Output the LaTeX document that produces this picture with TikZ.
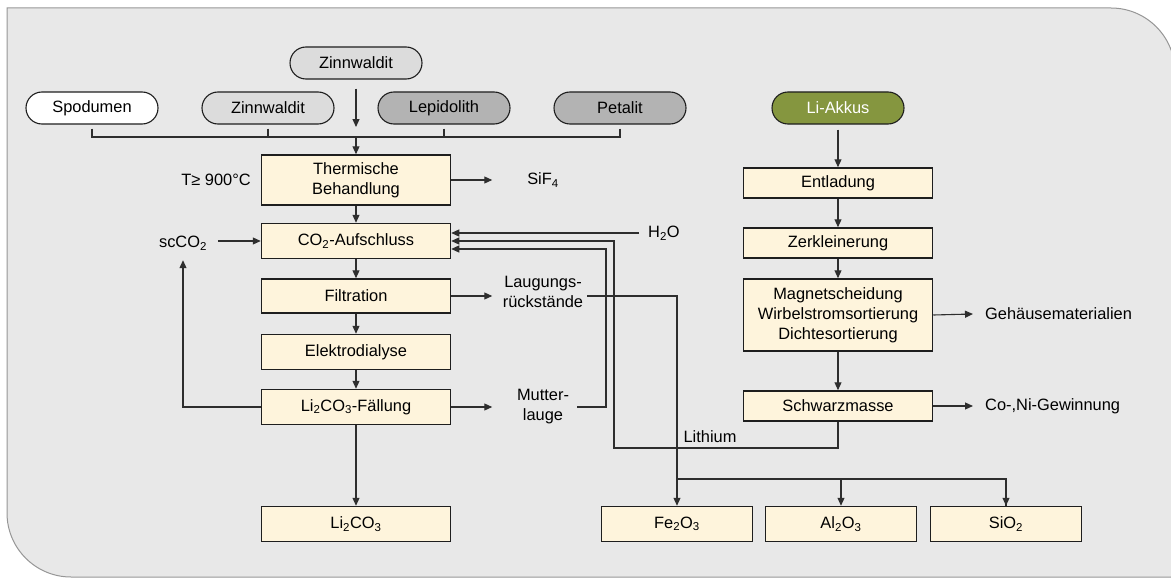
\documentclass[tikz,border=0pt]{standalone}
\usepackage{fontspec}
\setmainfont{Liberation Sans}
\usetikzlibrary{arrows.meta,calc}
\definecolor{bgfill}{HTML}{E8E8E8}
\definecolor{bgline}{HTML}{969696}
\definecolor{cream}{HTML}{FEF4DC}
\definecolor{boxline}{HTML}{1E1E1E}
\definecolor{lineclr}{HTML}{2E2E2E}
\definecolor{ovlight}{HTML}{DCDCDC}
\definecolor{ovdark}{HTML}{B3B3B3}
\definecolor{olive}{HTML}{85963F}
\newcommand{\sbs}[1]{\textsubscript{#1}}
\tikzset{
  procbox/.style={draw=boxline, fill=cream, line width=1.5pt, minimum width=189pt, minimum height=35pt, align=center, inner sep=0pt},
  prodbox/.style={procbox, minimum width=151pt},
  ovalbox/.style={draw=boxline, line width=1.1pt, rounded corners=16pt, minimum width=132pt, minimum height=32pt, inner sep=0pt},
  arr/.style={draw=lineclr, line width=1.1pt, -{Triangle[length=8pt,width=7pt]}},
  ln/.style={draw=lineclr, line width=1.1pt},
  lbl/.style={inner sep=0pt, align=center},
}
\begin{document}
\begin{tikzpicture}[x=1pt,y=-1pt, font=\fontsize{16.4}{20}\selectfont]
\useasboundingbox (0,0) rectangle (1171,578);
% background
\path[fill=bgfill, draw=bgline, line width=1pt] (7,8) -- (1111,8) .. controls (1146.3,8) and (1175,36.7) .. (1175,72) -- (1175,577) -- (71,577) .. controls (35.7,577) and (7,548.3) .. (7,513) -- cycle;

% ore ovals
\node[ovalbox, fill=ovlight] (topz) at (356,63) {Zinnwaldit};
\node[ovalbox, fill=white] (spod) at (92,108) {Spodumen};
\node[ovalbox, fill=ovlight] (zinn) at (268,108) {Zinnwaldit};
\node[ovalbox, fill=ovdark] (lepi) at (444,108) {Lepidolith};
\node[ovalbox, fill=ovdark] (peta) at (620,108) {Petalit};
\node[ovalbox, fill=olive, text=white] (akku) at (838,108) {Li-Akkus};

% left process column
\node[procbox, minimum height=50pt] (therm) at (356,180) {Thermische\\Behandlung};
\node[procbox] (co2) at (356,241) {CO\sbs{2}-Aufschluss};
\node[procbox, minimum height=34pt] (filt) at (356,296) {Filtration};
\node[procbox] (elek) at (356,352) {Elektrodialyse};
\node[procbox] (fall) at (356,407) {Li\sbs{2}CO\sbs{3}-Fällung};
\node[procbox] (lico) at (356,524) {Li\sbs{2}CO\sbs{3}};

% right process column
\node[procbox, minimum height=30pt] (entl) at (838,183) {Entladung};
\node[procbox, minimum height=30pt] (zerk) at (838,243) {Zerkleinerung};
\node[procbox, minimum height=72pt] (magn) at (838,315) {Magnetscheidung\\Wirbelstromsortierung\\Dichtesortierung};
\node[procbox, minimum height=30pt] (schw) at (838,406) {Schwarzmasse};

% products
\node[prodbox] (fe) at (677,524) {Fe\sbs{2}O\sbs{3}};
\node[prodbox] (al) at (841,524) {Al\sbs{2}O\sbs{3}};
\node[prodbox] (si) at (1006,524) {SiO\sbs{2}};

% labels
\node[lbl] (temp) at (216,180) {T≥ 900°C};
\node[lbl] (sif) at (543,180) {SiF\sbs{4}};
\node[lbl] (scco) at (183,243) {scCO\sbs{2}};
\node[lbl, anchor=west] (water) at (648,233) {H\sbs{2}O};
\node[lbl] (laug) at (543,292) {Laugungs-\\rückstände};
\node[lbl] (mutt) at (543,407) {Mutter-\\lauge};
\node[lbl] (lith) at (710,437) {Lithium};
\node[lbl, anchor=west] (geh) at (985,314) {Gehäusematerialien};
\node[lbl, anchor=west] (coni) at (985,406) {Co-,Ni-Gewinnung};

% collector bus
\coordinate (bus) at (356,137);
\draw[arr] ($(topz.south)+(0,9)$) -- ($(bus)+(0,-10)$);
\draw[ln] ($(spod.south)+(0,4)$) |- (bus);
\draw[ln] ($(zinn.south)+(0,4)$) -- (zinn.south |- bus);
\draw[ln] ($(lepi.south)+(0,4)$) -- (lepi.south |- bus);
\draw[ln] ($(peta.south)+(0,4)$) |- (bus);
\draw[arr] (bus) -- (therm.north);

% left chain
\draw[arr] (therm.east) -- ++(41,0);
\draw[arr] (therm.south) -- (co2.north);
\draw[arr] (co2.south) -- (filt.north);
\draw[arr] (filt.south) -- (elek.north);
\draw[arr] (elek.south) -- (fall.north);
\draw[arr] (fall.south) -- (lico.north);
\draw[arr] ($(co2.west)+(-43,0)$) -- (co2.west);
\draw[arr] (fall.west) -| ($(scco.south)+(0,10)$);
\draw[arr] (filt.east) -- ++(41,0);
\draw[arr] (fall.east) -- ++(41,0);

% returns to CO2-Aufschluss
\draw[arr] ($(water.west)+(-9,0)$) -- ($(co2.east)+(0,-8)$);
\draw[arr] (schw.south) |- (614,448) |- (co2.east);
\draw[arr] ($(mutt.east)+(8,0)$) -| (606,249) -- ($(co2.east)+(0,8)$);

% residues to products
\coordinate (split) at (677,479);
\draw[arr] ($(laug.east)+(4,4)$) -| (fe.north);
\draw[ln] (split) -| (si.north);
\draw[arr] (split -| si.north) -- (si.north);
\draw[arr] (split -| al.north) -- (al.north);

% right chain
\draw[arr] ($(akku.south)+(0,5)$) -- (entl.north);
\draw[arr] (entl.south) -- (zerk.north);
\draw[arr] (zerk.south) -- (magn.north);
\draw[arr] (magn.south) -- (schw.north);
\draw[arr] (magn.east) -- ($(geh.west)+(-12,0)$);
\draw[arr] (schw.east) -- ($(coni.west)+(-12,0)$);
\end{tikzpicture}
\end{document}
